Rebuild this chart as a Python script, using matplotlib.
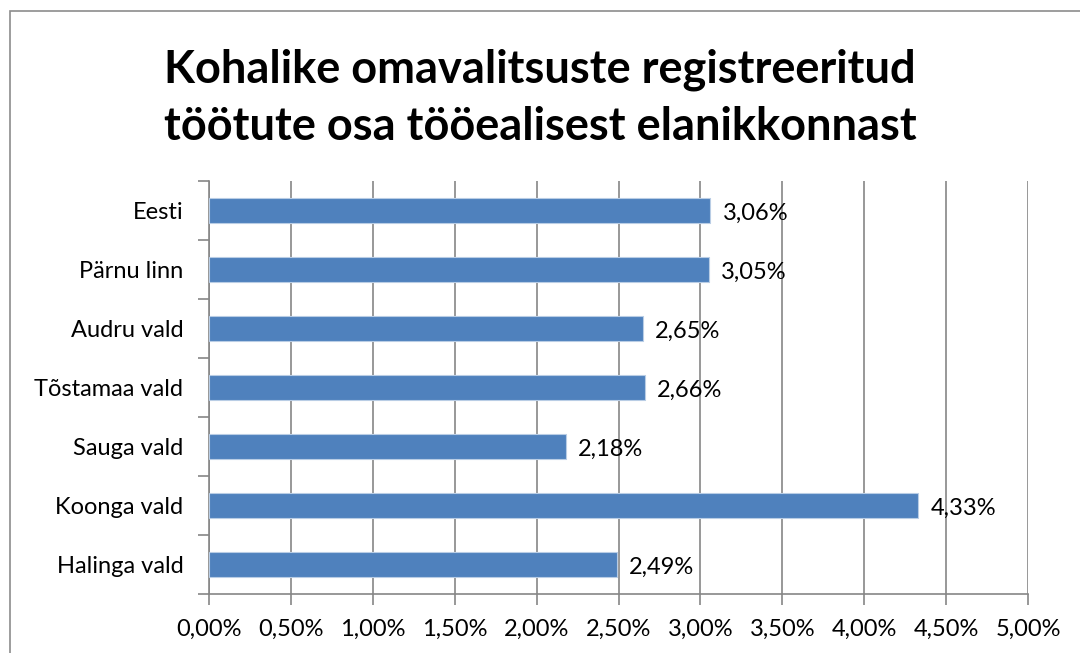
import numpy as np
import matplotlib.pyplot as plt
from matplotlib.patches import Rectangle
from matplotlib.ticker import FuncFormatter, MultipleLocator

kohad = ['Eesti', 'Pärnu linn', 'Audru vald', 'Tõstamaa vald',
         'Sauga vald', 'Koonga vald', 'Halinga vald']
osa = [3.06, 3.05, 2.65, 2.66, 2.18, 4.33, 2.49]
pealkiri = 'Kohalike omavalitsuste registreeritud\ntöötute osa tööealisest elanikkonnast'

plt.rcParams['font.family'] = ['Lato', 'DejaVu Sans']

W, H = 1080, 653
fig = plt.figure(figsize=(W/100, H/100), dpi=100)
# axes place in pixels
x0, x1 = 209, 1028
y0, y1 = 594, 181
ax = fig.add_axes([x0/W, 1-y0/H, (x1-x0)/W, (y0-y1)/H])

# outer chart border (goes off the right and bottom edge)
fig.patches.append(Rectangle((10/W, -0.05), 1.2, 1-11/H+0.05, transform=fig.transFigure,
                             fill=False, edgecolor='#8c8c8c', linewidth=1.2))

pos = np.arange(len(kohad))
ax.barh(pos, osa, height=0.41, color='#4F81BD', edgecolor='#B9CDE5', linewidth=0.8, zorder=3)
for p, v in zip(pos, osa):
    ax.text(v + 0.075, p + 0.05, ('%.2f' % v).replace('.', ',') + '%',
            va='center', ha='left', fontsize=17, color='black', zorder=4)

ax.set_xlim(0, 5)
ax.set_ylim(len(kohad) - 0.5, -0.5)
ax.xaxis.set_major_locator(MultipleLocator(0.5))
ax.xaxis.set_major_formatter(FuncFormatter(lambda v, _: ('%.2f' % v).replace('.', ',') + '%'))
ax.set_yticks(pos)
ax.set_yticklabels(kohad)
ax.set_yticks(np.arange(len(kohad) + 1) - 0.5, minor=True)
ax.grid(axis='x', color='#868686', linewidth=1.2, zorder=0)

for s in ['top', 'right']:
    ax.spines[s].set_visible(False)
for s in ['left', 'bottom']:
    ax.spines[s].set_color('#868686')
    ax.spines[s].set_linewidth(1.2)

ax.tick_params(axis='y', which='major', length=0, pad=18.5, labelsize=17)
ax.tick_params(axis='y', which='minor', length=8, width=1.2, color='#868686', direction='out')
ax.tick_params(axis='x', length=8, width=1.2, color='#868686', direction='out', pad=10, labelsize=17)

fig.text(0.5, 1 - 98/H, pealkiri, ha='center', va='center', fontsize=32.5,
         fontweight='bold', linespacing=1.45)

fig.savefig('out.png', dpi=100)
